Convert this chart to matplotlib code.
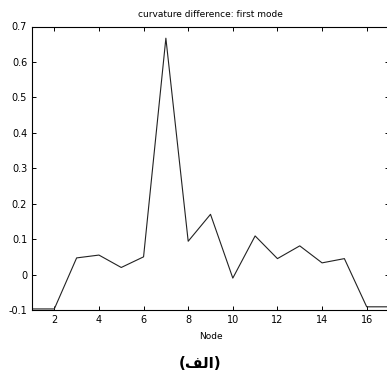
import numpy as np
import matplotlib.pyplot as plt

nodes = list(range(1, 18))
curv_diff = [-0.097, -0.097, 0.047, 0.055, 0.020, 0.050, 0.667, 0.094, 0.170,
             -0.010, 0.109, 0.045, 0.081, 0.033, 0.045, -0.091, -0.091]
x_ticks = [2, 4, 6, 8, 10, 12, 14, 16]
y_ticks = [-0.1, 0, 0.1, 0.2, 0.3, 0.4, 0.5, 0.6, 0.7]
y_labels = ['-0.1', '0', '0.1', '0.2', '0.3', '0.4', '0.5', '0.6', '0.7']

W, H = 387, 378
fig = plt.figure(figsize=(W / 100, H / 100), dpi=100)
# posicion de los ejes en pixeles (el borde derecho queda fuera de la imagen)
left, right, top, bottom = 32, 389, 26.5, 310
ax = fig.add_axes([left / W, 1 - bottom / H, (right - left) / W, (bottom - top) / H])

ax.plot(nodes, curv_diff, color='#222222', lw=0.8)
ax.set_xlim(1, 17)
ax.set_ylim(-0.1, 0.7)
ax.set_xticks(x_ticks)
ax.set_yticks(y_ticks)
ax.set_yticklabels(y_labels)
ax.tick_params(direction='in', top=True, right=True, length=3, width=0.7,
               labelsize=7, pad=3.5)
for s in ax.spines.values():
    s.set_linewidth(0.8)
ax.set_title('curvature difference: first mode', fontsize=6.5, pad=7)
ax.set_xlabel('Node', fontsize=6.5, labelpad=5)

# etiqueta en persa/arabe con formas de presentacion
fig.text(200 / W, 1 - 363 / H, '(\uFED2\uFEDF\uFE8D)', ha='center', va='center',
         fontsize=11, fontweight='bold', family='DejaVu Sans')

fig.savefig('out.png', dpi=100)
